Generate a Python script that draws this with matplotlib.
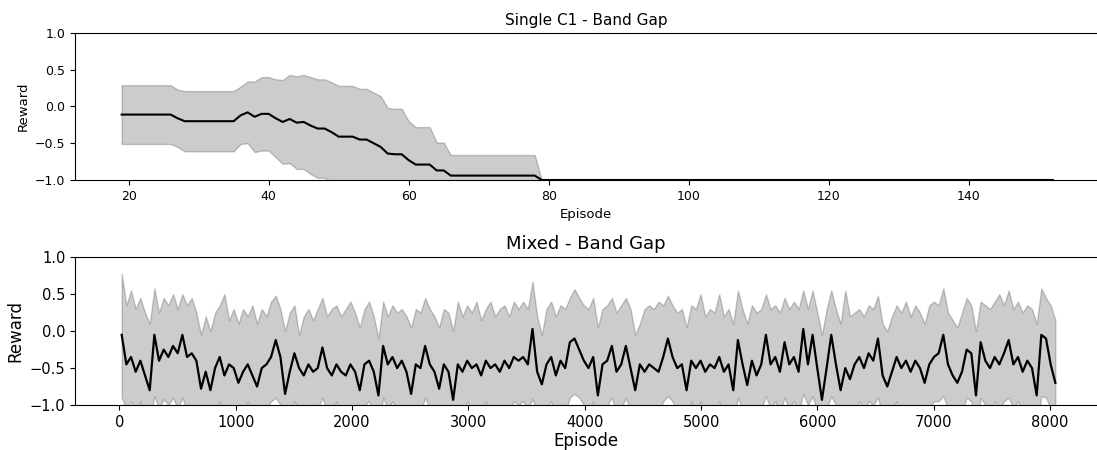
import numpy as np
import matplotlib
matplotlib.use("Agg")
import matplotlib.pyplot as plt

# Single C1 run: mean reward and std per episode
single_start = 19
single_mean = [-0.11, -0.11, -0.11, -0.11, -0.11, -0.11, -0.11, -0.11,   # 19-26
               -0.16,                                                     # 27
               -0.20, -0.20, -0.20, -0.20, -0.20, -0.20, -0.20, -0.20,   # 28-35
               -0.12, -0.08, -0.14, -0.10, -0.10, -0.16, -0.21, -0.17,   # 36-43
               -0.22, -0.21, -0.26, -0.30, -0.30, -0.35, -0.41, -0.41,   # 44-51
               -0.41, -0.45, -0.45, -0.50, -0.55, -0.64, -0.65, -0.65,   # 52-59
               -0.73, -0.79, -0.79, -0.79, -0.87, -0.87,                 # 60-65
               -0.94, -0.94, -0.94, -0.94, -0.94, -0.94, -0.94, -0.94,   # 66-73
               -0.94, -0.94, -0.94, -0.94, -0.94]                        # 74-78
single_std = [0.40, 0.40, 0.40, 0.40, 0.40, 0.40, 0.40, 0.40,
              0.39,
              0.41, 0.41, 0.41, 0.41, 0.41, 0.41, 0.41, 0.41,
              0.39, 0.42, 0.48, 0.50, 0.50, 0.53, 0.57, 0.60,
              0.63, 0.64, 0.66, 0.67, 0.67, 0.68, 0.69, 0.69,
              0.69, 0.69, 0.69, 0.69, 0.69, 0.62, 0.62, 0.62,
              0.53, 0.51, 0.51, 0.51, 0.38, 0.38,
              0.28, 0.28, 0.28, 0.28, 0.28, 0.28, 0.28, 0.28,
              0.28, 0.28, 0.28, 0.28, 0.28]
single_tail_end = 152      # reward stays at -1.0 from episode 79 to 152
single_tail_value = -1.0

# Mixed run: smoothed reward and band edges, sampled about every 40 episodes
mixed_first, mixed_last = 20, 8045
mixed_mean = [
    -0.05, -0.45, -0.35, -0.55, -0.40, -0.60, -0.80, -0.05, -0.40, -0.25,
    -0.35, -0.20, -0.30, -0.05, -0.35, -0.30, -0.40, -0.78, -0.55, -0.80,
    -0.50, -0.35, -0.60, -0.45, -0.50, -0.70, -0.55, -0.45, -0.60, -0.75,
    -0.50, -0.45, -0.35, -0.12, -0.35, -0.85, -0.55, -0.30, -0.50, -0.60,
    -0.45, -0.55, -0.50, -0.22, -0.50, -0.60, -0.45, -0.55, -0.60, -0.45,
    -0.55, -0.80, -0.45, -0.40, -0.55, -0.87, -0.20, -0.45, -0.35, -0.50,
    -0.40, -0.55, -0.85, -0.45, -0.50, -0.20, -0.45, -0.55, -0.78, -0.45,
    -0.55, -0.93, -0.45, -0.55, -0.40, -0.50, -0.45, -0.60, -0.40, -0.50,
    -0.45, -0.55, -0.40, -0.50, -0.35, -0.40, -0.35, -0.45, 0.03, -0.55,
    -0.72, -0.45, -0.35, -0.60, -0.40, -0.50, -0.15, -0.10, -0.25, -0.40,
    -0.50, -0.35, -0.87, -0.45, -0.40, -0.20, -0.55, -0.45, -0.20, -0.50,
    -0.80, -0.45, -0.55, -0.45, -0.50, -0.55, -0.35, -0.10, -0.35, -0.50,
    -0.45, -0.80, -0.40, -0.50, -0.40, -0.55, -0.45, -0.50, -0.35, -0.55,
    -0.45, -0.80, -0.12, -0.45, -0.73, -0.40, -0.60, -0.45, -0.05, -0.45,
    -0.35, -0.55, -0.15, -0.45, -0.35, -0.55, 0.03, -0.45, -0.05, -0.50,
    -0.93, -0.50, -0.05, -0.45, -0.80, -0.50, -0.65, -0.45, -0.35, -0.50,
    -0.30, -0.40, -0.10, -0.60, -0.75, -0.55, -0.35, -0.50, -0.40, -0.55,
    -0.40, -0.50, -0.70, -0.45, -0.35, -0.30, -0.05, -0.45, -0.60, -0.70,
    -0.55, -0.25, -0.30, -0.87, -0.15, -0.40, -0.50, -0.35, -0.45, -0.30,
    -0.12, -0.45, -0.35, -0.55, -0.40, -0.50, -0.87, -0.05, -0.10, -0.45,
    -0.70]
mixed_upper = [
    0.78, 0.35, 0.55, 0.30, 0.45, 0.25, 0.10, 0.58, 0.25, 0.45,
    0.35, 0.50, 0.30, 0.50, 0.35, 0.45, 0.25, -0.05, 0.20, 0.00,
    0.25, 0.35, 0.50, 0.15, 0.30, 0.10, 0.30, 0.20, 0.35, 0.10,
    0.30, 0.20, 0.40, 0.48, 0.30, 0.00, 0.25, 0.35, -0.05, 0.20,
    0.30, 0.15, 0.30, 0.45, 0.20, 0.30, 0.35, 0.20, 0.30, 0.40,
    0.25, 0.05, 0.30, 0.40, 0.20, -0.10, 0.40, 0.20, 0.35, 0.25,
    0.30, 0.20, 0.05, 0.30, 0.25, 0.45, 0.30, 0.20, 0.05, 0.30,
    0.25, 0.00, 0.40, 0.20, 0.35, 0.25, 0.40, 0.15, 0.30, 0.40,
    0.20, 0.30, 0.35, 0.20, 0.40, 0.30, 0.40, 0.30, 0.67, 0.20,
    -0.05, 0.30, 0.40, 0.20, 0.35, 0.30, 0.45, 0.57, 0.45, 0.35,
    0.30, 0.45, 0.05, 0.30, 0.35, 0.45, 0.25, 0.35, 0.45, 0.30,
    -0.05, 0.10, 0.30, 0.35, 0.30, 0.40, 0.35, 0.48, 0.35, 0.25,
    0.30, 0.05, 0.35, 0.30, 0.50, 0.20, 0.30, 0.25, 0.50, 0.20,
    0.30, 0.10, 0.55, 0.30, 0.10, 0.35, 0.25, 0.30, 0.50, 0.30,
    0.35, 0.25, 0.45, 0.30, 0.40, 0.30, 0.55, 0.30, 0.55, 0.25,
    -0.05, 0.30, 0.55, 0.30, 0.10, 0.55, 0.20, 0.25, 0.30, 0.20,
    0.35, 0.30, 0.48, 0.10, 0.00, 0.20, 0.35, 0.25, 0.40, 0.20,
    0.35, 0.25, 0.10, 0.35, 0.40, 0.35, 0.58, 0.25, 0.15, 0.05,
    0.25, 0.45, 0.35, 0.00, 0.40, 0.35, 0.30, 0.40, 0.50, 0.35,
    0.55, 0.30, 0.40, 0.25, 0.35, 0.30, 0.10, 0.58, 0.45, 0.35,
    0.15]
mixed_lower = [
    -0.90, -1.05, -0.95, -1.10, -0.95, -1.15, -1.20, -0.88, -1.05, -0.92,
    -1.00, -0.90, -1.05, -0.90, -1.10, -1.00, -1.10, -1.30, -1.20, -1.30,
    -1.10, -0.95, -1.15, -1.05, -1.10, -1.25, -1.10, -0.95, -1.15, -1.30,
    -1.10, -1.05, -0.95, -0.90, -1.00, -1.30, -1.10, -0.95, -1.10, -1.15,
    -1.05, -1.10, -1.05, -0.90, -1.10, -1.15, -0.95, -1.10, -1.15, -1.00,
    -1.10, -1.30, -1.00, -0.95, -1.10, -1.35, -0.90, -1.05, -0.95, -1.10,
    -1.00, -1.10, -1.30, -1.05, -1.10, -0.90, -1.05, -1.10, -1.30, -1.00,
    -1.10, -1.40, -1.00, -1.10, -0.95, -1.10, -1.05, -1.15, -0.95, -1.10,
    -1.05, -1.10, -1.00, -1.10, -0.95, -1.00, -0.95, -1.05, -0.92, -1.10,
    -1.30, -1.05, -0.95, -1.15, -1.00, -1.10, -0.90, -0.85, -0.90, -1.00,
    -1.10, -0.95, -1.35, -1.05, -1.00, -0.90, -1.10, -1.05, -0.90, -1.10,
    -1.30, -1.10, -1.10, -1.00, -1.05, -1.10, -0.95, -0.88, -0.95, -1.10,
    -1.05, -1.30, -0.95, -1.10, -0.95, -1.15, -1.05, -1.10, -0.95, -1.10,
    -1.05, -1.30, -0.90, -1.05, -1.25, -1.00, -1.15, -1.05, -0.88, -1.05,
    -0.95, -1.10, -0.90, -1.05, -0.95, -1.10, -0.85, -1.00, -0.88, -1.10,
    -1.40, -1.05, -0.88, -1.00, -1.30, -1.05, -1.20, -1.05, -0.95, -1.10,
    -0.95, -1.00, -0.90, -1.15, -1.30, -1.10, -0.95, -1.10, -1.00, -1.10,
    -1.00, -1.10, -1.25, -1.05, -0.95, -0.95, -0.88, -1.05, -1.15, -1.25,
    -1.10, -0.90, -0.95, -1.35, -0.90, -1.00, -1.10, -0.95, -1.05, -0.95,
    -0.90, -1.05, -0.95, -1.10, -1.00, -1.10, -1.35, -0.88, -0.90, -1.05,
    -1.30]

# build the single-run series
single_mean_full = np.array(single_mean + [single_tail_value] * (single_tail_end - single_start - len(single_mean) + 1))
single_std_full = np.array(single_std + [0.0] * (len(single_mean_full) - len(single_std)))
single_ep = np.arange(single_start, single_start + len(single_mean_full))

mixed_ep = np.linspace(mixed_first, mixed_last, len(mixed_mean))

fig = plt.figure(figsize=(10.97, 4.5), dpi=100)

# top panel
ax1 = fig.add_axes([0.0684, 0.60, 0.9316, 0.3267])
ax1.fill_between(single_ep, single_mean_full - single_std_full, single_mean_full + single_std_full,
                 color="black", alpha=0.2)
ax1.plot(single_ep, single_mean_full, color="black", lw=1.5)
ax1.set_ylim(-1, 1)
ax1.set_xlim(12.35, 158.3)
ax1.set_yticks([-1.0, -0.5, 0.0, 0.5, 1.0])
ax1.set_title("Single C1 - Band Gap", fontsize=11)
ax1.set_xlabel("Episode", fontsize=9.5)
ax1.set_ylabel("Reward", fontsize=9.5)
ax1.tick_params(labelsize=9)
ax1.spines["right"].set_visible(False)

# bottom panel
ax2 = fig.add_axes([0.0684, 0.10, 0.9316, 0.3282])
ax2.fill_between(mixed_ep, mixed_lower, mixed_upper, color="black", alpha=0.2)
ax2.plot(mixed_ep, mixed_mean, color="black", lw=1.6)
ax2.set_ylim(-1, 1)
ax2.set_xlim(-381, 8403)
ax2.set_yticks([-1.0, -0.5, 0.0, 0.5, 1.0])
ax2.set_title("Mixed - Band Gap", fontsize=13)
ax2.set_xlabel("Episode", fontsize=12, labelpad=1.5)
ax2.set_ylabel("Reward", fontsize=12)
ax2.tick_params(labelsize=10.5)
ax2.spines["right"].set_visible(False)

fig.savefig("out.png", dpi=100)
